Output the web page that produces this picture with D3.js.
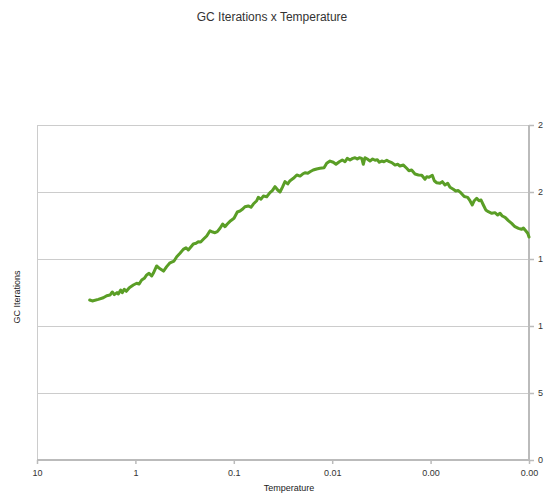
<!DOCTYPE html>
<html><head><meta charset="utf-8">
<script src="https://cdn.jsdelivr.net/npm/d3@7"></script>
<style>html,body{margin:0;padding:0;background:#fff;overflow:hidden}svg{display:block}</style>
</head><body><div id="chart"></div>
<script>
const title = "GC Iterations x Temperature";
const xTitle = "Temperature";
const yTitle = "GC Iterations";
const xTickValues = [10, 1, 0.1, 0.01, 0.001, 0.0001];
const xTickLabels = ["10", "1", "0.1", "0.01", "0.00", "0.00"];
const yTickValues = [0, 5, 10, 15, 20, 25];
const yTickLabels = ["0", "5", "1", "1", "2", "2"];
const temperature = [2.913,2.742,2.382,2.120,1.957,1.812,1.717,1.639,1.538,1.492,1.411,1.359,1.297,1.237,1.153,1.050,0.970,0.919,0.863,0.812,0.768,0.727,0.683,0.658,0.608,0.562,0.518,0.481,0.445,0.405,0.380,0.352,0.326,0.306,0.290,0.268,0.258,0.242,0.2295,0.217,0.204,0.1885,0.1745,0.164,0.1553,0.1471,0.138,0.1297,0.1229,0.1164,0.1075,0.0995,0.0921,0.0865,0.0825,0.0770,0.0712,0.0669,0.0633,0.0585,0.0564,0.0529,0.0501,0.0463,0.0429,0.0406,0.0381,0.0358,0.0339,0.0321,0.0302,0.0283,0.0268,0.0248,0.0229,0.0212,0.0200,0.0189,0.0177,0.0168,0.0156,0.0144,0.0133,0.0121,0.01137,0.01053,0.00975,0.00915,0.00847,0.00790,0.00741,0.00703,0.00659,0.00619,0.00586,0.00556,0.00530,0.00501,0.00483,0.00464,0.00440,0.00413,0.00388,0.00367,0.00348,0.00332,0.00314,0.00298,0.00279,0.00263,0.00248,0.00230,0.00216,0.00205,0.00189,0.00175,0.00166,0.00156,0.00144,0.00133,0.00123,0.00114,0.001095,0.001038,0.000961,0.000917,0.000867,0.000803,0.000760,0.000714,0.000670,0.000635,0.000588,0.000556,0.000523,0.000491,0.000455,0.000420,0.000398,0.000377,0.000360,0.000340,0.000322,0.000307,0.000291,0.000275,0.000259,0.000239,0.000222,0.000208,0.000197,0.000187,0.000175,0.000162,0.000150,0.000139,0.000128,0.000119,0.000114,0.000108,0.000103,0.0001];
const gcIterations = [11.94,11.87,11.99,12.11,12.26,12.31,12.54,12.34,12.49,12.39,12.69,12.49,12.74,12.59,12.86,13.06,13.19,13.13,13.43,13.56,13.81,13.93,13.73,13.93,14.48,14.27,14.10,14.43,14.72,14.85,15.17,15.43,15.72,15.84,15.67,15.97,16.12,16.17,16.29,16.27,16.47,16.72,17.11,17.01,16.96,17.04,17.29,17.61,17.41,17.61,17.86,18.04,18.51,18.58,18.69,18.90,18.96,18.86,19.10,19.35,19.60,19.46,19.70,19.65,19.95,20.10,20.40,20.15,20.00,20.35,20.77,20.60,20.84,21.02,21.27,21.19,21.34,21.44,21.40,21.51,21.64,21.72,21.77,21.81,22.14,22.31,22.22,22.07,22.26,22.39,22.26,22.51,22.39,22.51,22.56,22.46,22.56,22.51,22.07,22.56,22.46,22.31,22.46,22.37,22.41,22.22,22.31,22.26,22.37,22.26,22.19,22.01,22.07,21.94,22.01,21.77,21.59,21.64,21.34,21.27,21.25,20.95,21.14,21.10,21.25,20.84,20.69,20.65,20.77,20.52,20.65,20.35,20.20,20.07,20.11,19.93,19.66,19.60,19.35,19.03,19.35,19.53,19.35,19.40,19.03,18.66,18.53,18.41,18.46,18.28,18.41,18.21,18.11,17.86,17.66,17.41,17.29,17.22,17.31,17.11,16.92,16.64];

(function () {
const W = 544, H = 494;
const mLeft = 37, mRight = 529, mTop = 125, mBottom = 460;
const font = "Arial, 'Liberation Sans', sans-serif";

const svg = d3.select("#chart").append("svg").attr("width", W).attr("height", H);

const x = d3.scaleLog().domain([10, 0.0001]).range([mLeft, mRight]);
const y = d3.scaleLinear().domain([0, 25]).range([mBottom, mTop]);

// gridlines
svg.append("g").selectAll("line").data(yTickValues.filter(v => v > 0)).join("line")
  .attr("x1", mLeft).attr("x2", mRight)
  .attr("y1", d => y(d)).attr("y2", d => y(d))
  .attr("stroke", "#cccccc").attr("stroke-width", 1).attr("shape-rendering", "crispEdges");

// left border
svg.append("line").attr("x1", mLeft).attr("x2", mLeft).attr("y1", mTop).attr("y2", mBottom)
  .attr("stroke", "#cccccc").attr("shape-rendering", "crispEdges");

// right axis
const yAxis = d3.axisRight(y).tickValues(yTickValues).tickFormat((d, i) => yTickLabels[i]).tickSize(5).tickPadding(4);
const gy = svg.append("g").attr("transform", `translate(${mRight},0)`).call(yAxis);
gy.select(".domain").attr("stroke", "#bbbbbb").attr("stroke-width", 2).attr("d", `M0,${mTop}V${mBottom}`);
gy.selectAll(".tick line").attr("stroke", "#bbbbbb").attr("stroke-width", 1.5);
gy.selectAll(".tick text").attr("fill", "#333").style("font-family", font).style("font-size", "9px");

// bottom axis
const xAxis = d3.axisBottom(x).tickValues(xTickValues).tickFormat((d, i) => xTickLabels[i]).tickSize(4).tickPadding(6);
const gx = svg.append("g").attr("transform", `translate(0,${mBottom})`).call(xAxis);
gx.select(".domain").attr("stroke", "#bbbbbb").attr("stroke-width", 2).attr("d", `M${mLeft},0H${mRight}`);
gx.selectAll(".tick line").attr("stroke", "#bbbbbb").attr("stroke-width", 1.5);
gx.selectAll(".tick text").attr("fill", "#333").style("font-family", font).style("font-size", "9px");

// line
const data = temperature.map((t, i) => ({t, v: gcIterations[i]}));
svg.append("path").datum(data)
  .attr("fill", "none").attr("stroke", "#5a9e26").attr("stroke-width", 3)
  .attr("stroke-linejoin", "round").attr("stroke-linecap", "round")
  .attr("d", d3.line().x(d => x(d.t)).y(d => y(d.v)));

// titles
svg.append("text").attr("x", 272).attr("y", 21).attr("text-anchor", "middle")
  .attr("fill", "#333").style("font-family", font).style("font-size", "12px").text(title);
svg.append("text").attr("x", 289).attr("y", 491).attr("text-anchor", "middle")
  .attr("fill", "#222").style("font-family", font).style("font-size", "9px").text(xTitle);
svg.append("text").attr("transform", "translate(20,297) rotate(-90)").attr("text-anchor", "middle")
  .attr("fill", "#222").style("font-family", font).style("font-size", "9px").text(yTitle);
})();
</script></body></html>
